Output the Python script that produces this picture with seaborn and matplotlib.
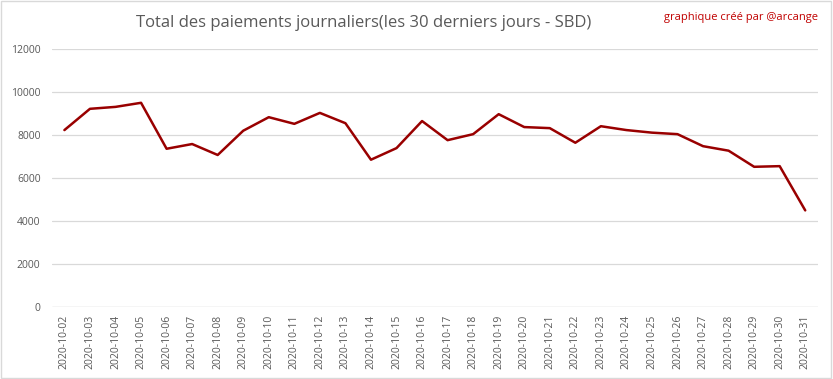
import seaborn as sns
import pandas as pd
import matplotlib.pyplot as plt
from matplotlib.patches import Rectangle

dates = ['2020-10-%02d' % d for d in range(2, 32)]
payouts = [8220, 9210, 9300, 9490, 7350, 7570, 7060, 8190, 8820, 8510,
           9020, 8540, 6840, 7380, 8640, 7750, 8030, 8960, 8360, 8310,
           7630, 8400, 8220, 8100, 8030, 7470, 7260, 6510, 6540, 4480]

df = pd.DataFrame({'date': dates, 'sbd': payouts})

sns.set_style('white')
plt.rcParams['font.family'] = ['Open Sans', 'DejaVu Sans']

fig = plt.figure(figsize=(8.33, 3.79), dpi=100)
ax = fig.add_axes([0.062, 0.191, 0.920, 0.680])

sns.lineplot(data=df, x='date', y='sbd', color='#990000', linewidth=1.8, ax=ax)

ax.set_xlim(-0.5, len(dates) - 0.5)
ax.set_ylim(0, 12000)
ax.set_yticks(range(0, 12001, 2000))
ax.yaxis.grid(True, color='#d9d9d9', linewidth=0.9)
ax.set_axisbelow(True)
for s in ax.spines.values():
    s.set_visible(False)
ax.axhline(0, color='#d9d9d9', linewidth=0.9, zorder=0)
ax.tick_params(axis='both', length=0, colors='#595959', labelsize=7.5)
ax.tick_params(axis='y', pad=8)
ax.tick_params(axis='x', pad=6)
plt.setp(ax.get_xticklabels(), rotation=90)
ax.set_xlabel('')
ax.set_ylabel('')

fig.text(0.437, 0.938, 'Total des paiements journaliers(les 30 derniers jours - SBD)',
         ha='center', va='center', fontsize=12, color='#595959')
fig.text(0.982, 0.955, 'graphique créé par @arcange', ha='right', va='center',
         fontsize=8, color='#c00000')

fig.patches.append(Rectangle((0.001, 0.002), 0.997, 0.995, transform=fig.transFigure,
                             fill=False, edgecolor='#d9d9d9', linewidth=1))

fig.savefig('out.png', dpi=100)
